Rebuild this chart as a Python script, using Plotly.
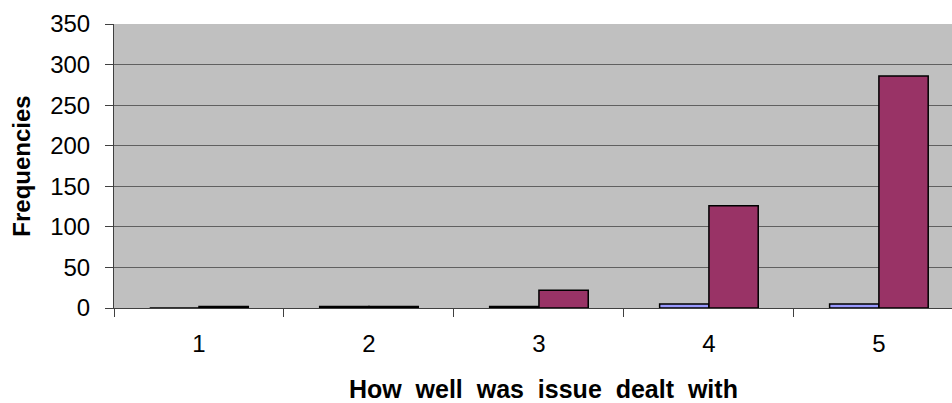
import plotly.graph_objects as go

categories = ["1", "2", "3", "4", "5"]
series_a = [0, 2, 2, 5, 5]
series_b = [2, 2, 22, 126, 286]
y_ticks = [0, 50, 100, 150, 200, 250, 300, 350]

fig = go.Figure()
fig.add_trace(go.Bar(x=categories, y=series_a, marker=dict(color="#9999FF", line=dict(color="black", width=1.5)), showlegend=False))
fig.add_trace(go.Bar(x=categories, y=series_b, marker=dict(color="#993366", line=dict(color="black", width=1.5)), showlegend=False))

x_title = "&nbsp;&nbsp;&nbsp;How&nbsp; well&nbsp; was&nbsp; issue&nbsp; dealt&nbsp; with"

fig.update_layout(
    width=952, height=403,
    margin=dict(l=114, r=0, t=24, b=95, pad=0),
    paper_bgcolor="white", plot_bgcolor="#C0C0C0",
    barmode="group", bargap=0.42, bargroupgap=0,
    font=dict(family="Liberation Sans, Arial, sans-serif", size=24, color="black"),
)
fig.update_xaxes(
    type="category", range=[-0.5, 4.43], tickson="boundaries",
    ticks="outside", ticklen=8, tickcolor="#404040", tickwidth=1,
    ticklabelstandoff=14,
    showline=True, linecolor="#404040", linewidth=1, showgrid=False,
    title=dict(text="<b>" + x_title + "</b>", font=dict(size=25), standoff=24),
)
fig.update_yaxes(
    range=[0, 350], tickvals=y_ticks, ticks="outside", ticklen=8, tickcolor="#404040",
    ticklabelstandoff=10,
    showline=True, linecolor="#404040", linewidth=1, showgrid=True, gridcolor="#606060", gridwidth=1,
    zeroline=False,
    title=dict(text="<b>Frequencies</b>", font=dict(size=24), standoff=12),
)
fig.write_html("out.html", config={"displayModeBar": False},
               post_script="document.body.style.margin='0';document.body.style.overflow='hidden';")
